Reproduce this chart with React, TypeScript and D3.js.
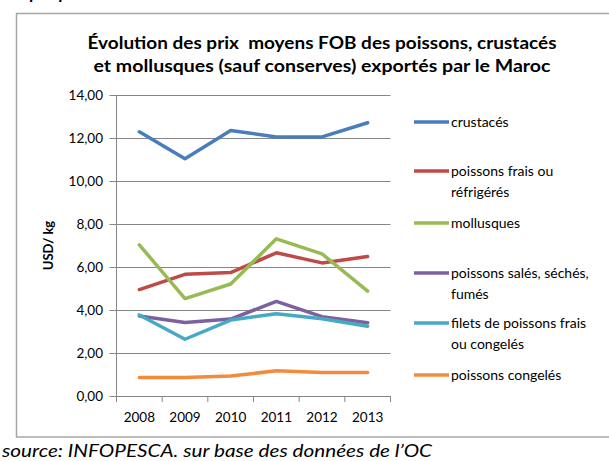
import React from "react";
import * as d3 from "d3";

const years = ["2008", "2009", "2010", "2011", "2012", "2013"];
const yTicks = [0, 2, 4, 6, 8, 10, 12, 14];

const crustaces = [12.29, 11.04, 12.35, 12.05, 12.05, 12.71];
const poissonsFrais = [4.95, 5.66, 5.74, 6.66, 6.19, 6.49];
const mollusques = [7.03, 4.53, 5.21, 7.31, 6.61, 4.88];
const poissonsSales = [3.72, 3.42, 3.58, 4.4, 3.69, 3.41];
const filets = [3.77, 2.64, 3.53, 3.83, 3.59, 3.24];
const poissonsCongeles = [0.86, 0.86, 0.93, 1.17, 1.09, 1.09];

const seriesNames = [
  ["crustacés"],
  ["poissons frais ou", "réfrigérés"],
  ["mollusques"],
  ["poissons salés, séchés,", "fumés"],
  ["filets de poissons frais", "ou congelés"],
  ["poissons congelés"],
];
const seriesValues = [crustaces, poissonsFrais, mollusques, poissonsSales, filets, poissonsCongeles];
const colors = ["#4A7EBB", "#BE4B48", "#98B954", "#7D60A0", "#46AAC5", "#F38B3C"];
const legendY = [122, 171, 223, 273, 323, 375];

const FONT = "Lato, 'Open Sans', sans-serif";

export default function App() {
  const W = 609, H = 461;
  const left = 116.5, right = 390.5, top = 95, bottom = 396;
  const x = d3.scaleBand<string>().domain(years).range([left, right]);
  const y = d3.scaleLinear().domain([0, 14]).range([bottom, top]);
  const line = d3
    .line<number>()
    .x((_, i) => (x(years[i]) as number) + x.bandwidth() / 2)
    .y((d) => y(d));
  const grid = "#868686";
  const fmt = (v: number) => v.toFixed(2).replace(".", ",");
  const boundaries = years.map((yr) => x(yr) as number).concat([right]);

  return (
    <svg width={W} height={H} style={{ position: "absolute", left: 0, top: 0 }} fontFamily={FONT}>
      <rect x={0} y={0} width={W} height={H} fill="#fff" />
      <text x={2} y={-1} fontSize={17} fontWeight="bold" fill="#000">Graphique 5:</text>
      <rect x={16.5} y={13.5} width={W} height={423.5} fill="none" stroke="#a6a6a6" strokeWidth={1.5} />
      <text x={322} y={49} textAnchor="middle" fontSize={16.5} fontWeight="bold" textLength={469} lengthAdjust="spacingAndGlyphs" style={{ whiteSpace: "pre" }}>
        {"Évolution des prix  moyens FOB des poissons, crustacés"}
      </text>
      <text x={322} y={72} textAnchor="middle" fontSize={16.5} fontWeight="bold" textLength={457} lengthAdjust="spacingAndGlyphs">
        et mollusques (sauf conserves) exportés par le Maroc
      </text>
      {yTicks.map((t) => (
        <g key={t}>
          <line x1={left - 7} x2={right} y1={Math.round(y(t)) + 0.5} y2={Math.round(y(t)) + 0.5} stroke={grid} strokeWidth={1} />
          <text x={103} y={y(t)} dy="0.35em" textAnchor="end" fontSize={13.5} fill="#000">{fmt(t)}</text>
        </g>
      ))}
      <line x1={left} x2={left} y1={top} y2={bottom + 6} stroke={grid} />
      {boundaries.map((b, i) => (
        <line key={i} x1={b} x2={b} y1={bottom} y2={bottom + 6} stroke={grid} />
      ))}
      {years.map((yr) => (
        <text key={yr} x={(x(yr) as number) + x.bandwidth() / 2} y={422} textAnchor="middle" fontSize={13.5} fill="#000">{yr}</text>
      ))}
      <text transform={`translate(53,${(top + bottom) / 2}) rotate(-90)`} textAnchor="middle" fontSize={13} fontWeight="bold">USD/ kg</text>
      {seriesValues.map((vals, i) => (
        <path key={i} d={line(vals) as string} fill="none" stroke={colors[i]} strokeWidth={3.5} strokeLinejoin="round" strokeLinecap="round" />
      ))}
      {seriesNames.map((names, i) => (
        <g key={i}>
          <line x1={414} x2={449} y1={legendY[i]} y2={legendY[i]} stroke={colors[i]} strokeWidth={3.5} />
          {names.map((n, j) => (
            <text key={j} x={451} y={legendY[i] + j * 21} dy="0.35em" fontSize={14} fill="#000">{n}</text>
          ))}
        </g>
      ))}
      <text x={2} y={457} fontSize={16.5} fontStyle="italic" fill="#000" textLength={430} lengthAdjust="spacingAndGlyphs">
        source: INFOPESCA. sur base des données de l’OC
      </text>
    </svg>
  );
}
